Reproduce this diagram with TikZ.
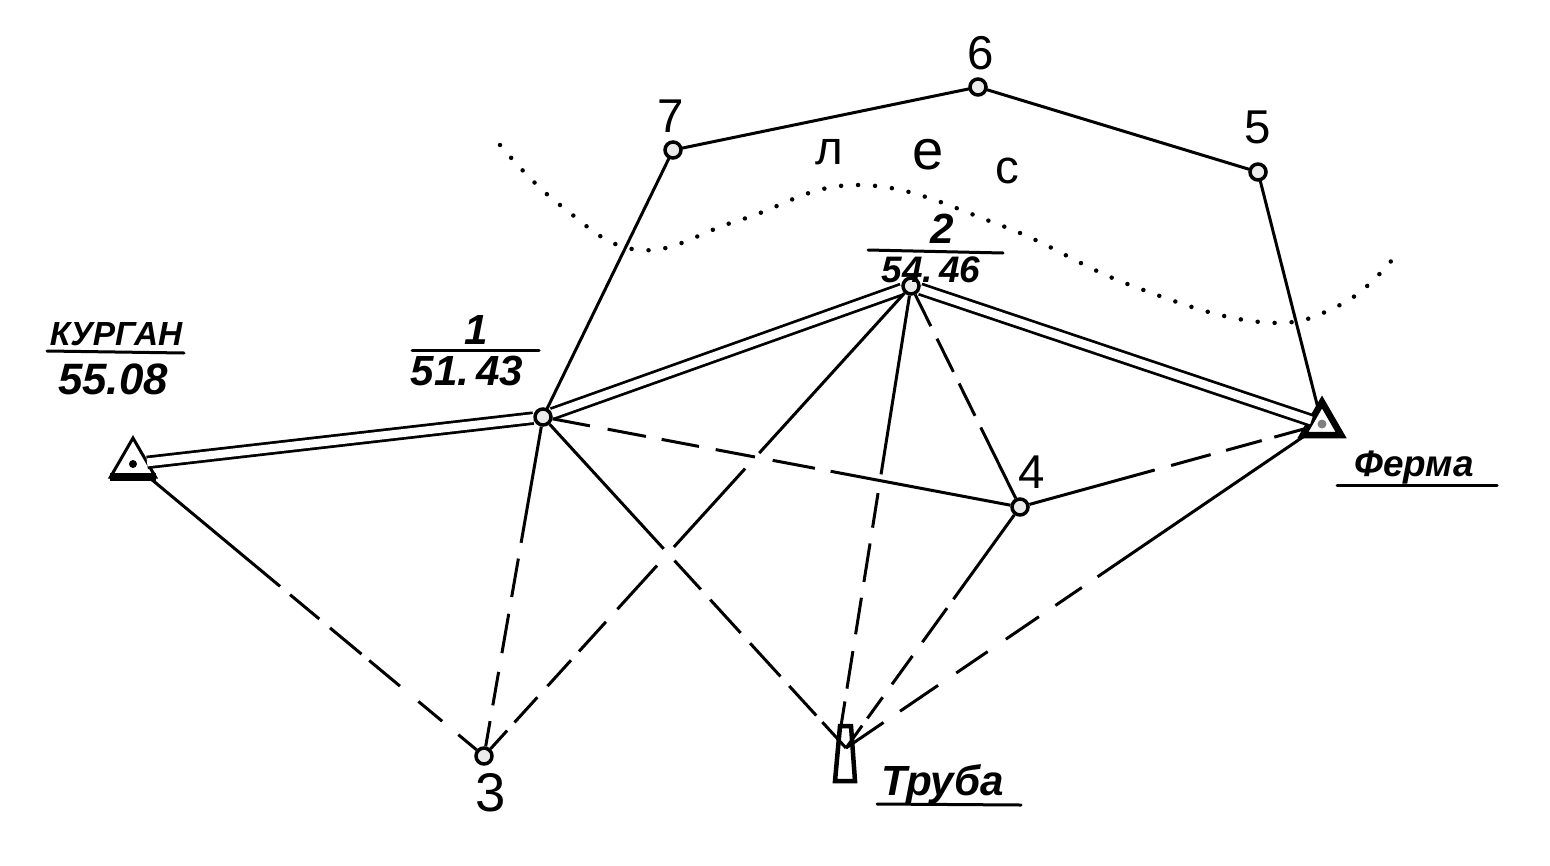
\documentclass[tikz,border=0pt]{standalone}
\usepackage{fontspec}
\setmainfont{Liberation Sans}
\usetikzlibrary{shapes.geometric}
\begin{document}
\begin{tikzpicture}[x=0.02cm,y=-0.02cm,line cap=round,
        pt/.style={circle,draw=black,fill=black!8,line width=0.07cm,minimum size=0.32cm,inner sep=0pt},
        trig/.style={regular polygon,regular polygon sides=3,draw=black,fill=white,inner sep=0pt,outer sep=0pt},
        sol/.style={line width=0.06cm},
        dbl/.style={double=white,draw=black,line width=0.055cm,double distance=0.16cm,line cap=butt},
        dsh/.style={line width=0.06cm,line cap=butt},
        rulel/.style={line width=0.06cm},
        num/.style={inner sep=0pt,font=\fontsize{24}{24}\selectfont\bfseries\itshape},
        big/.style={inner sep=0pt,font=\fontsize{27}{27}\selectfont},
        nam/.style={inner sep=0pt,font=\fontsize{21}{21}\selectfont\bfseries\itshape}]
    \useasboundingbox (0,0) rectangle (1550,865);
    % points
    \node[pt] (p1) at (543,417) {};
    \node[pt] (p2) at (911,286) {};
    \node[pt] (p3) at (484,756) {};
    \node[pt] (p4) at (1020,507) {};
    \node[pt] (p5) at (1258,172) {};
    \node[pt] (p6) at (978,87) {};
    \node[pt] (p7) at (673,150) {};
    \node[trig,line width=0.06cm,minimum size=1.04cm] (kurgan) at (133,464) {};
    \node[trig,line width=0.13cm,minimum size=0.88cm] (ferma) at (1322,424) {};
    \coordinate (truba) at (846,748);
    \coordinate (trubatop) at (841,726);
    % triangle marks
    \fill (kurgan) circle (0.08cm);
    \fill[gray] (ferma) circle (0.09cm);
    \draw[line width=0.16cm,line cap=butt] (kurgan.corner 2) -- (kurgan.corner 3);
    % tower
    \draw[line width=0.09cm] (840,726) -- (851,726) -- (855,781) -- (835,781) -- cycle;
    % traverse
    \draw[dbl] (kurgan) -- (p1);
    \draw[dbl] (p1) -- (p2);
    \draw[dbl] (p2) -- (ferma);
    \draw[sol] (p1) -- (p7);
    \draw[sol] (p7) -- (p6);
    \draw[sol] (p6) -- (p5);
    \draw[sol] (p5) -- (ferma);
    % dashed rays
    \draw[dsh,dash pattern=on 3.42cm off .26cm on .76cm off .28cm on .82cm off .2cm on .8cm off .48cm on .62cm off .42cm on 2cm] (kurgan) -- (p3);
    \draw[dsh,dash pattern=on 2.36cm off .32cm on .78cm off .34cm on .8cm off .38cm on .68cm off .32cm on 2cm] (p1) -- (p3);
    \draw[dsh,dash pattern=on 4.32cm off .42cm on 2.12cm off .5cm on 1.18cm off .34cm on .8cm off .24cm on .7cm off .3cm on .68cm off .22cm on 2cm] (p2) -- (p3);
    \draw[dsh,dash pattern=on .76cm off .36cm on .78cm off .32cm on .76cm off .34cm on .8cm off .36cm on .86cm off .32cm on 4cm] (p1) -- (p4);
    \draw[dsh,dash pattern=on .7cm off .28cm on .74cm off .26cm on .72cm off .26cm on 4cm] (p2) -- (p4);
    \draw[dsh,dash pattern=on 2.6cm off .34cm on .82cm off .32cm on .74cm off .26cm on 2cm] (p4) -- (ferma);
    \draw[dsh,dash pattern=on 3.38cm off .32cm on .78cm off .28cm on .9cm off .28cm on .9cm off .26cm on .8cm off .18cm on 2cm] (p1) -- (truba);
    \draw[dsh,dash pattern=on 3.62cm off .38cm on .7cm off .32cm on .78cm off .32cm on .74cm off .34cm on .76cm off .26cm on 2cm] (p2) -- (trubatop);
    \draw[dsh,dash pattern=on 2.08cm off .22cm on .84cm off .34cm on .7cm off .32cm on .52cm off .18cm on 2cm] (p4) -- (truba);
    \draw[dsh,dash pattern=on 5.04cm off .38cm on .64cm off .4cm on .8cm off .44cm on .76cm off .44cm on .92cm off .4cm on 2cm] (ferma) -- (truba);
    % forest edge
    \draw[line width=0.09cm,dash pattern=on 0pt off 0.34cm] plot[smooth,tension=0.7] coordinates {(500,145) (560,205) (640,250) (740,220) (860,185) (1000,225) (1130,285) (1260,322) (1340,305) (1392,260)};
    % labels
    \node[big] (t5) at (1258,127) {5};
    \node[big] (t6) at (981,53) {6};
    \node[big] (t7) at (671,116) {7};
    \node[big] (t4) at (1032,472) {4};
    \node[big,font=\fontsize{31}{31}\selectfont] (t3) at (491,793) {3};
    \node[big] (l1) at (829,152) {л};
    \node[big,font=\fontsize{32}{32}\selectfont] (l2) at (928,155) {е};
    \node[big] (l3) at (1007,171) {с};
    \node[num] (n1) at (476,330) {1};
    \coordinate (a1) at (412,350);
    \coordinate (a2) at (539,350);
    \draw[rulel] (a1) -- (a2);
    \node[num] (h1) at (467,371) {51.\,43};
    \node[num] (n2) at (942,229) {2};
    \coordinate (b1) at (868,250);
    \coordinate (b2) at (1003,253);
    \draw[rulel] (b1) -- (b2);
    \node[num,font=\fontsize{21}{21}\selectfont\bfseries\itshape] (h2) at (931,270) {54.\,46};
    \node[nam,font=\fontsize{19}{19}\selectfont\bfseries\itshape] (nk) at (116,334) {КУРГАН};
    \coordinate (c1) at (47,351);
    \coordinate (c2) at (184,353);
    \draw[rulel] (c1) -- (c2);
    \node[num,font=\fontsize{25}{25}\selectfont\bfseries\itshape] (hk) at (113,379) {55.08};
    \node[nam] (nf) at (1414,468) {Ферма};
    \coordinate (d1) at (1337,485);
    \coordinate (d2) at (1497,485);
    \draw[rulel] (d1) -- (d2);
    \node[nam,font=\fontsize{24}{24}\selectfont\bfseries\itshape] (nt) at (943,784) {Труба};
    \coordinate (e1) at (877,804);
    \coordinate (e2) at (1021,805);
    \draw[rulel] (e1) -- (e2);
\end{tikzpicture}
\end{document}
